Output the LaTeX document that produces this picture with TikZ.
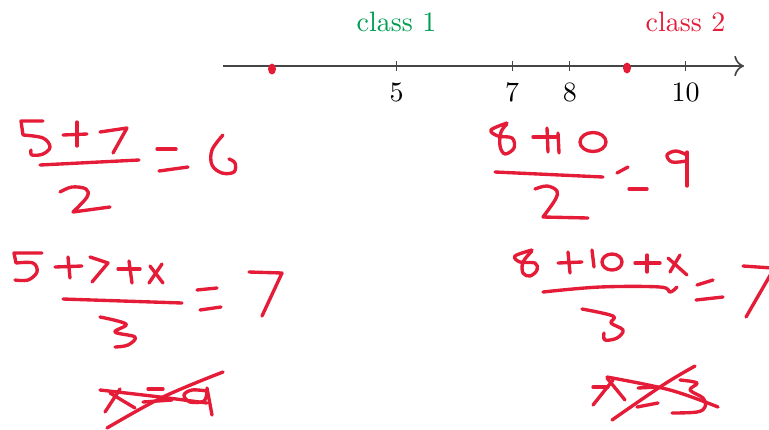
\documentclass[tikz,border=0pt]{standalone}
\usetikzlibrary{arrows.meta}
\definecolor{hwred}{RGB}{228,28,56}
\definecolor{clsgreen}{RGB}{0,158,80}
\definecolor{axisgray}{RGB}{70,70,70}
\begin{document}
\begin{tikzpicture}[x=0.357pt,y=-0.357pt,
  hw/.style={draw=hwred,line width=1.2pt,line cap=round,line join=round},
  axisline/.style={draw=axisgray,line width=0.6pt,-{To[length=3.5pt]}},
  tickline/.style={draw=axisgray,line width=0.35pt},
  ticklabel/.style={anchor=base,inner sep=0pt,text=black},
  clslabel/.style={anchor=base,inner sep=0pt},
  sm/.style={smooth,tension=0.6}]
\useasboundingbox (0,0) rectangle (769,429);
% number line
\coordinate (ls) at (223,66);
\coordinate (le) at (744,66);
\draw[axisline] (ls) -- (le);
\foreach \n/\xx in {5/396.5,7/512.1,8/569.9,10/685.5}{
  \coordinate (t\n) at (\xx,66);
  \draw[tickline] (\xx,61) -- (\xx,71);
  \node[ticklabel] (lab\n) at (\xx,101) {\n};
}
\node[clslabel,text=clsgreen] (c1) at (396.5,31) {class 1};
\node[clslabel,text=hwred] (c2) at (685.5,31) {class 2};
\fill[hwred] (272,69) ellipse [x radius=4,y radius=5.5];
\fill[hwred] (627,68) ellipse [x radius=4,y radius=5.5];
% ---------- top left: (5+7)/2 = 6
\draw[hw] (43,121) -- (21,121) -- (23,135) plot[sm] coordinates {(23,135) (43,138) (50,147) (43,154) (32,155) (31,150)};
\draw[hw] (63,135) -- (87,134);
\draw[hw] (77,122) -- (77,146);
\draw[hw] (100,132) -- (127,128) -- (113,153);
\draw[hw] (40,165) -- (139,160);
\draw[hw] plot[sm] coordinates {(60,192) (72,187) (86,189) (87,197) (73,212)} -- (110,207);
\draw[hw] (157,149) -- (176,149);
\draw[hw] (159,171) -- (188,167);
\draw[hw] plot[sm] coordinates {(223,135) (212,150) (212,165) (222,173) (234,172) (235,163) (229,159)};
% ---------- middle left: (5+7+x)/3 = 7
\draw[hw] (42,253) -- (14,253) -- (16,263) plot[sm] coordinates {(16,263) (33,263) (37,272) (28,280) (15,280)};
\draw[hw] (55,267) -- (82,266);
\draw[hw] (68,257) -- (70,278);
\draw[hw] (90,257) -- (108,263) -- (92,282);
\draw[hw] (118,269) -- (140,269);
\draw[hw] (129,261) -- (132,283);
\draw[hw] (150,266) -- (163,283);
\draw[hw] (149,283) -- (162,264);
\draw[hw] (63,299) -- (182,303);
\draw[hw] plot[sm] coordinates {(100,317) (126,324) (115,332) (135,337) (128,345) (115,347)};
\draw[hw] (197,290) -- (217,288);
\draw[hw] (200,310) -- (221,307);
\draw[hw] (249,272) -- (282,273) -- (262,316);
% ---------- bottom left: crossed x = 9
\draw[hw] plot[sm] coordinates {(100,390) (160,397) (207,403)};
\draw[hw] (105,412) -- (120,389);
\draw[hw] (110,393) -- (135,408);
\draw[hw] (148,389) -- (163,389);
\draw[hw] (143,402) -- (172,400);
\draw[hw] plot[sm] coordinates {(207,391) (192,390) (184,395) (190,402) (204,401) (207,391)};
\draw[hw] (207,388) -- (212,415);
\draw[hw] plot[sm] coordinates {(107,428) (163,397) (223,372)};
% ---------- top right: (8+10)/2 = 9
\draw[hw] plot[sm] coordinates {(507,123) (491,130) (498,136) (512,138) (514,148) (505,154) (500,146) (501,132) (507,124)};
\draw[hw] (533,137) -- (557,137);
\draw[hw] (547,128) -- (548,152);
\draw[hw] (558,133) -- (559,153);
\draw[hw] (593,142) ellipse [x radius=13,y radius=9.5];
\draw[hw] (495,172) -- (603,177);
\draw[hw] plot[sm] coordinates {(535,189) (547,186) (557,191) (555,200) (543,217)} -- (588,218);
\draw[hw] (617,173) -- (628,167);
\draw[hw] (629,189) -- (647,189);
\draw[hw] plot[sm] coordinates {(687,155) (676,151) (667,155) (672,162) (686,161)};
\draw[hw] (687,152) -- (687,186);
% ---------- middle right: (8+10+x)/3 = 7
\draw[hw] plot[sm] coordinates {(532,250) (515,256) (520,262) (535,263) (537,270) (530,276) (523,273) (523,262) (532,251)};
\draw[hw] (558,263) -- (582,262);
\draw[hw] (568,252) -- (570,273);
\draw[hw] (592,250) -- (594,267);
\draw[hw] (612,262) ellipse [x radius=10,y radius=8];
\draw[hw] (635,263) -- (660,263);
\draw[hw] (647,255) -- (647,272);
\draw[hw] (668,258) -- (687,275);
\draw[hw] (670,272) -- (680,255);
\draw[hw] plot[sm] coordinates {(543,292) (600,287) (660,287) (670,292) (677,287)};
\draw[hw] plot[sm] coordinates {(582,309) (613,316) (611,323) (623,330) (617,338) (605,340) (604,333)};
\draw[hw] (697,285) -- (713,280);
\draw[hw] (696,300) -- (723,297);
\draw[hw] (743,266) -- (772,268);
\draw[hw] (772,272) -- (746,317);
% ---------- bottom right: crossed x = 3
\draw[hw] (607,378) -- (625,400);
\draw[hw] (593,405) -- (613,380);
\draw[hw] (593,387) -- (608,387);
\draw[hw] plot[sm] coordinates {(607,377) (670,390) (718,407)};
\draw[hw] plot[sm] coordinates {(612,420) (663,385) (695,366)};
\draw[hw] (638,388) -- (658,387);
\draw[hw] (637,407) -- (658,403);
\draw[hw] plot[sm] coordinates {(680,380) (697,383) (690,390) (703,398) (705,407) (697,412) (672,413)};
\end{tikzpicture}
\end{document}
